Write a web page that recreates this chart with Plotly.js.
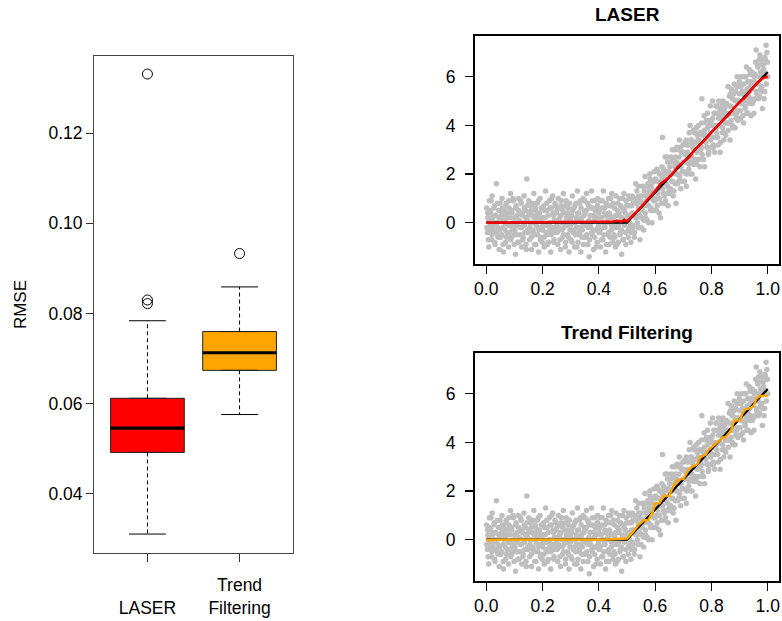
<!DOCTYPE html>
<html><head><meta charset="utf-8">
<script src="https://cdn.plot.ly/plotly-3.0.1.min.js"></script>
<style>html,body{margin:0;padding:0;background:#fff}#chart{width:782px;height:621px}</style>
</head><body><div id="chart"></div>
<script>
// ---- Left panel: RMSE boxplot summary ----
const categories = ['LASER', 'Trend Filtering'];
const categoryTickText = [' <br>LASER', 'Trend<br>Filtering'];
const boxPos = [1, 2];
const q1 = [0.0492, 0.0674];
const median = [0.0546, 0.0713];
const q3 = [0.0612, 0.0760];
const lowerWhisker = [0.0311, 0.0576];
const upperWhisker = [0.0784, 0.0859];
const outliersLaser = [0.1331, 0.0830, 0.0822];
const outliersTF = [0.0933];
const rmseTicks = [0.04, 0.06, 0.08, 0.10, 0.12];
const rmseTickText = ['0.04', '0.06', '0.08', '0.10', '0.12'];

const obsX = [
0.001,0.004,0.006,0.009,0.011,0.014,0.016,0.019,0.021,0.024,0.026,0.029,0.031,0.034,0.036,0.039,0.041,0.044,0.046,0.049,
0.051,0.054,0.056,0.059,0.061,0.064,0.066,0.069,0.071,0.074,0.076,0.079,0.081,0.084,0.086,0.089,0.091,0.094,0.096,0.099,
0.101,0.104,0.106,0.109,0.111,0.114,0.116,0.119,0.121,0.124,0.126,0.129,0.131,0.134,0.136,0.139,0.141,0.144,0.146,0.149,
0.151,0.154,0.156,0.159,0.161,0.164,0.166,0.169,0.171,0.174,0.176,0.179,0.181,0.184,0.186,0.189,0.191,0.194,0.196,0.199,
0.201,0.204,0.206,0.209,0.211,0.214,0.216,0.219,0.221,0.224,0.226,0.229,0.231,0.234,0.236,0.239,0.241,0.244,0.246,0.249,
0.251,0.254,0.256,0.259,0.261,0.264,0.266,0.269,0.271,0.274,0.276,0.279,0.281,0.284,0.286,0.289,0.291,0.294,0.296,0.299,
0.301,0.304,0.306,0.309,0.311,0.314,0.316,0.319,0.321,0.324,0.326,0.329,0.331,0.334,0.336,0.339,0.341,0.344,0.346,0.349,
0.351,0.354,0.356,0.359,0.361,0.364,0.366,0.369,0.371,0.374,0.376,0.379,0.381,0.384,0.386,0.389,0.391,0.394,0.396,0.399,
0.401,0.404,0.406,0.409,0.411,0.414,0.416,0.419,0.421,0.424,0.426,0.429,0.431,0.434,0.436,0.439,0.441,0.444,0.446,0.449,
0.451,0.454,0.456,0.459,0.461,0.464,0.466,0.469,0.471,0.474,0.476,0.479,0.481,0.484,0.486,0.489,0.491,0.494,0.496,0.499,
0.501,0.504,0.506,0.509,0.511,0.514,0.516,0.519,0.521,0.524,0.526,0.529,0.531,0.534,0.536,0.539,0.541,0.544,0.546,0.549,
0.551,0.554,0.556,0.559,0.561,0.564,0.566,0.569,0.571,0.574,0.576,0.579,0.581,0.584,0.586,0.589,0.591,0.594,0.596,0.599,
0.601,0.604,0.606,0.609,0.611,0.614,0.616,0.619,0.621,0.624,0.626,0.629,0.631,0.634,0.636,0.639,0.641,0.644,0.646,0.649,
0.651,0.654,0.656,0.659,0.661,0.664,0.666,0.669,0.671,0.674,0.676,0.679,0.681,0.684,0.686,0.689,0.691,0.694,0.696,0.699,
0.701,0.704,0.706,0.709,0.711,0.714,0.716,0.719,0.721,0.724,0.726,0.729,0.731,0.734,0.736,0.739,0.741,0.744,0.746,0.749,
0.751,0.754,0.756,0.759,0.761,0.764,0.766,0.769,0.771,0.774,0.776,0.779,0.781,0.784,0.786,0.789,0.791,0.794,0.796,0.799,
0.801,0.804,0.806,0.809,0.811,0.814,0.816,0.819,0.821,0.824,0.826,0.829,0.831,0.834,0.836,0.839,0.841,0.844,0.846,0.849,
0.851,0.854,0.856,0.859,0.861,0.864,0.866,0.869,0.871,0.874,0.876,0.879,0.881,0.884,0.886,0.889,0.891,0.894,0.896,0.899,
0.901,0.904,0.906,0.909,0.911,0.914,0.916,0.919,0.921,0.924,0.926,0.929,0.931,0.934,0.936,0.939,0.941,0.944,0.946,0.949,
0.951,0.954,0.956,0.959,0.961,0.964,0.966,0.969,0.971,0.974,0.976,0.979,0.981,0.984,0.986,0.989,0.991,0.994,0.996,0.999,
0.002,0.005,0.007,0.010,0.012,0.015,0.017,0.020,0.022,0.025,0.027,0.030,0.032,0.035,0.037,0.040,0.042,0.045,0.047,0.050,
0.052,0.055,0.057,0.060,0.062,0.065,0.067,0.070,0.072,0.075,0.077,0.080,0.082,0.085,0.087,0.090,0.092,0.095,0.097,0.100,
0.102,0.105,0.107,0.110,0.112,0.115,0.117,0.120,0.122,0.125,0.127,0.130,0.132,0.135,0.137,0.140,0.142,0.145,0.147,0.150,
0.152,0.155,0.157,0.160,0.162,0.165,0.167,0.170,0.172,0.175,0.177,0.180,0.182,0.185,0.187,0.190,0.192,0.195,0.197,0.200,
0.202,0.205,0.207,0.210,0.212,0.215,0.217,0.220,0.222,0.225,0.227,0.230,0.232,0.235,0.237,0.240,0.242,0.245,0.247,0.250,
0.252,0.255,0.257,0.260,0.262,0.265,0.267,0.270,0.272,0.275,0.277,0.280,0.282,0.285,0.287,0.290,0.292,0.295,0.297,0.300,
0.302,0.305,0.307,0.310,0.312,0.315,0.317,0.320,0.322,0.325,0.327,0.330,0.332,0.335,0.337,0.340,0.342,0.345,0.347,0.350,
0.352,0.355,0.357,0.360,0.362,0.365,0.367,0.370,0.372,0.375,0.377,0.380,0.382,0.385,0.387,0.390,0.392,0.395,0.397,0.400,
0.402,0.405,0.407,0.410,0.412,0.415,0.417,0.420,0.422,0.425,0.427,0.430,0.432,0.435,0.437,0.440,0.442,0.445,0.447,0.450,
0.452,0.455,0.457,0.460,0.462,0.465,0.467,0.470,0.472,0.475,0.477,0.480,0.482,0.485,0.487,0.490,0.492,0.495,0.497,0.500,
0.502,0.505,0.507,0.510,0.512,0.515,0.517,0.520,0.522,0.525,0.527,0.530,0.532,0.535,0.537,0.540,0.542,0.545,0.547,0.550,
0.552,0.555,0.557,0.560,0.562,0.565,0.567,0.570,0.572,0.575,0.577,0.580,0.582,0.585,0.587,0.590,0.592,0.595,0.597,0.600,
0.602,0.605,0.607,0.610,0.612,0.615,0.617,0.620,0.622,0.625,0.627,0.630,0.632,0.635,0.637,0.640,0.642,0.645,0.647,0.650,
0.652,0.655,0.657,0.660,0.662,0.665,0.667,0.670,0.672,0.675,0.677,0.680,0.682,0.685,0.687,0.690,0.692,0.695,0.697,0.700,
0.702,0.705,0.707,0.710,0.712,0.715,0.717,0.720,0.722,0.725,0.727,0.730,0.732,0.735,0.737,0.740,0.742,0.745,0.747,0.750,
0.752,0.755,0.757,0.760,0.762,0.765,0.767,0.770,0.772,0.775,0.777,0.780,0.782,0.785,0.787,0.790,0.792,0.795,0.797,0.800,
0.802,0.805,0.807,0.810,0.812,0.815,0.817,0.820,0.822,0.825,0.827,0.830,0.832,0.835,0.837,0.840,0.842,0.845,0.847,0.850,
0.852,0.855,0.857,0.860,0.862,0.865,0.867,0.870,0.872,0.875,0.877,0.880,0.882,0.885,0.887,0.890,0.892,0.895,0.897,0.900,
0.902,0.905,0.907,0.910,0.912,0.915,0.917,0.920,0.922,0.925,0.927,0.930,0.932,0.935,0.937,0.940,0.942,0.945,0.947,0.950,
0.952,0.955,0.957,0.960,0.962,0.965,0.967,0.970,0.972,0.975,0.977,0.980,0.982,0.985,0.987,0.990,0.992,0.995,0.997,1.000
];
const obsY = [
0.6,-0.4,0.2,-1.0,0.9,-0.1,0.4,-0.7,1.1,-0.3,0.0,0.7,-0.9,0.3,1.6,-0.5,-0.2,0.5,-1.1,0.8,
-0.6,0.3,1.0,-0.2,-1.2,0.5,0.1,-0.8,0.8,-0.4,0.2,-1.0,0.6,-0.1,1.2,-0.6,0.4,-0.3,0.9,-0.9,
0.2,-1.3,0.7,-0.5,0.0,1.0,-0.8,0.4,-0.2,0.8,-1.0,0.3,-0.6,1.1,-0.1,0.5,-0.9,1.8,0.1,-0.4,
0.9,-0.7,0.0,0.5,-1.1,0.3,-0.3,1.2,-0.5,0.6,-0.9,0.1,0.8,-0.2,-1.2,0.4,1.0,-0.6,0.2,-0.8,
-0.3,0.7,-1.0,0.2,1.3,-0.5,0.5,-0.1,-0.8,0.9,0.0,-1.2,0.6,-0.4,1.1,0.3,-0.7,0.8,-0.2,0.4,
0.5,-0.9,1.0,-0.3,0.2,-1.1,0.7,0.0,-0.6,1.2,-0.2,0.4,-1.0,0.9,0.1,-0.5,0.6,-1.2,0.3,-0.1,
-0.7,0.3,1.1,-0.4,0.6,-1.0,0.0,0.8,-0.2,1.3,-0.8,0.4,-0.5,0.9,-1.2,0.2,-0.3,1.0,-0.6,0.5,
0.4,-0.6,1.2,0.0,-0.9,0.7,-1.4,0.3,-0.2,1.3,-0.5,0.6,-1.1,0.1,0.9,-0.3,0.5,-0.8,1.0,-0.1,
-0.4,0.9,-1.0,0.2,0.6,-0.7,1.3,-0.2,0.4,-1.2,0.8,0.0,-0.5,1.0,-0.9,0.3,0.7,-0.3,1.2,-0.6,
0.8,-0.5,0.1,-1.0,1.1,-0.2,0.5,-0.8,0.3,1.0,-0.4,0.0,-1.3,0.6,-0.7,1.2,-0.1,0.4,-0.9,0.7,
0.7,-0.6,1.1,-0.2,0.3,-0.8,0.7,1.1,-0.2,0.4,-0.6,1.0,1.6,0.2,0.8,-0.2,1.5,1.0,-0.7,0.5,
0.2,1.5,0.7,-0.3,1.3,1.9,0.2,1.1,0.7,1.6,0.0,1.3,2.0,0.5,1.2,0.0,1.7,0.9,2.1,0.5,
1.8,0.5,2.2,1.2,1.7,0.4,2.0,0.2,1.6,2.3,3.5,1.2,2.0,0.8,2.7,1.6,1.2,2.5,0.7,2.1,
1.2,2.5,2.0,1.7,3.0,1.1,2.5,3.0,1.6,0.8,2.5,2.0,3.0,1.7,3.4,2.3,1.4,2.9,2.1,3.2,
2.9,1.7,3.3,2.5,1.5,3.2,2.7,2.2,3.7,4.0,2.5,3.4,2.0,3.1,3.8,2.4,3.3,1.8,3.9,2.9,
2.6,4.0,3.4,2.3,3.7,3.1,5.1,2.6,3.7,4.4,2.3,3.6,4.1,3.1,4.5,2.8,4.0,3.6,4.8,3.1,
4.0,5.0,3.2,4.5,2.9,4.0,4.8,3.7,4.5,3.2,5.0,4.0,2.9,4.7,4.4,3.7,5.0,3.4,4.7,4.1,
3.6,4.9,4.4,5.6,4.1,5.2,3.4,4.8,5.5,4.0,5.1,4.5,5.7,3.9,5.4,4.5,6.0,4.2,5.0,5.8,
5.6,4.3,6.0,4.9,5.4,4.1,6.0,4.8,5.3,6.4,4.5,5.8,5.2,6.3,4.9,5.6,4.4,6.2,5.5,5.0,
4.5,6.1,5.8,7.1,5.3,6.5,5.7,6.7,5.2,6.2,6.7,5.6,4.7,6.5,6.2,5.4,6.7,7.3,6.0,6.6,
-0.2,0.4,-0.7,0.1,0.5,-0.3,0.9,-0.5,0.2,-0.1,0.6,-0.8,0.3,-0.4,0.0,0.8,-0.6,0.2,-0.3,0.5,
0.1,-0.5,0.6,-0.9,0.3,0.0,-0.3,0.7,-0.6,0.4,-0.1,0.9,-0.4,0.2,-0.7,0.5,-0.2,1.0,0.0,-0.5,
-0.3,0.6,-0.1,0.3,-0.8,0.5,0.1,-0.5,0.9,-0.2,0.4,-0.7,0.0,0.6,-0.4,0.2,-1.1,0.7,-0.3,0.3,
0.4,-0.2,0.7,-0.6,0.0,0.8,-0.4,0.2,-0.9,0.5,-0.1,0.3,-0.5,0.9,-0.3,0.1,-0.7,0.6,-0.2,0.0,
0.2,-0.6,0.5,-0.1,-0.4,0.8,-0.9,0.3,0.0,-0.3,0.6,-0.5,1.0,-0.2,0.4,-0.8,0.1,-0.4,0.7,-0.1,
-0.4,0.1,-0.2,0.6,-0.7,0.3,0.9,-0.3,0.5,-0.5,0.0,0.7,-0.8,0.2,-0.1,0.4,-0.6,0.8,-0.3,0.1,
0.3,-0.8,0.5,0.0,-0.3,0.7,-0.5,0.2,-1.0,0.4,0.1,-0.4,0.8,-0.2,0.6,-0.6,0.0,-0.9,0.3,0.9,
-0.1,0.5,-0.5,0.8,-0.2,0.1,-0.7,0.6,0.0,-0.4,0.9,-0.3,0.3,-0.6,0.5,-1.0,0.2,0.7,-0.2,0.4,
0.5,-0.3,0.2,-0.7,0.9,0.0,-0.5,0.6,-0.2,0.3,-0.9,0.7,0.1,-0.4,0.4,-0.6,1.0,-0.1,0.2,-0.8,
-0.2,0.6,-0.6,0.3,0.0,-0.9,0.8,-0.1,0.4,-0.5,0.7,-0.3,0.2,1.0,-0.7,0.5,0.1,-0.4,0.9,0.2,
0.3,-0.3,0.7,0.0,1.0,-0.4,0.4,-0.1,0.8,0.3,-0.4,0.8,0.2,1.3,0.0,0.6,1.1,0.3,0.9,-0.2,
1.1,0.5,0.8,0.1,1.5,0.4,1.1,0.9,0.1,1.5,0.7,1.2,1.8,0.6,1.5,1.0,0.5,1.7,1.3,0.9,
1.0,1.7,0.7,2.1,1.4,1.0,2.0,1.7,0.8,1.9,1.4,2.2,1.1,1.8,0.9,2.1,2.7,1.5,2.0,1.3,
2.3,1.4,2.7,2.0,1.7,2.6,1.3,2.3,2.7,2.0,3.1,1.6,2.4,2.7,1.9,3.1,2.3,1.7,2.9,2.5,
2.1,2.8,2.5,3.4,2.0,2.9,3.2,2.4,2.8,2.0,3.4,2.7,3.3,2.4,3.0,3.7,2.6,3.3,2.4,3.6,
3.4,2.6,3.7,3.2,3.0,4.1,2.8,3.6,2.6,3.8,3.5,3.3,4.2,3.1,3.9,2.9,4.2,3.7,3.4,4.2,
3.5,4.3,3.1,4.0,4.5,3.5,3.9,4.8,3.5,4.3,4.0,4.6,3.3,4.3,4.9,3.9,4.6,3.7,4.5,4.9,
4.9,4.1,4.5,3.8,4.8,4.5,5.3,4.2,4.5,5.1,3.9,5.3,4.5,5.0,4.3,5.6,4.6,5.0,4.3,5.3,
4.6,5.6,4.9,5.4,4.4,5.7,5.2,4.7,6.0,5.0,5.5,4.5,5.8,5.4,6.1,5.1,5.8,4.9,6.1,5.7,
6.0,5.1,6.6,5.7,5.4,6.4,5.1,6.0,6.9,5.5,6.0,6.5,5.4,6.3,5.1,6.8,6.1,5.7,7.0,6.0
];

// true signal (black)
const truthX = [0, 0.5, 1];
const truthY = [0, 0, 6.2];
// LASER estimate (red)
const laserX = [0, 0.3, 0.41, 0.45, 0.47, 0.48, 0.49, 0.5, 0.51, 0.53, 0.56, 0.58, 0.6, 0.62, 0.64, 0.66, 0.68, 0.7, 0.72, 0.74, 0.76, 0.78, 0.8, 0.82, 0.84, 0.86, 0.88, 0.9, 0.92, 0.94, 0.96, 0.98, 1.0];
const laserY = [0, 0.01, 0.04, 0.05, 0.08, 0.04, 0.12, 0.05, 0.18, 0.4, 0.78, 1.05, 1.3, 1.62, 1.78, 2.0, 2.3, 2.5, 2.68, 3.0, 3.22, 3.45, 3.72, 3.98, 4.2, 4.42, 4.72, 4.95, 5.15, 5.45, 5.72, 5.92, 6.02];
// Trend filtering estimate (orange)
const tfX = [0, 0.04, 0.41, 0.5, 0.52, 0.54, 0.56, 0.575, 0.59, 0.6, 0.615, 0.63, 0.65, 0.66, 0.675, 0.69, 0.7, 0.72, 0.73, 0.75, 0.76, 0.78, 0.79, 0.81, 0.82, 0.84, 0.85, 0.87, 0.88, 0.9, 0.91, 0.92, 0.935, 0.95, 0.96, 0.97, 1.0];
const tfY = [-0.02, 0.0, 0.0, 0.05, 0.3, 0.6, 0.8, 0.8, 1.1, 1.5, 1.5, 1.8, 1.8, 2.1, 2.4, 2.5, 2.5, 2.9, 3.0, 3.1, 3.4, 3.5, 3.7, 3.9, 4.0, 4.2, 4.2, 4.5, 4.9, 4.9, 5.2, 5.35, 5.4, 5.5, 5.8, 5.9, 5.93];
const xTicks = [0, 0.2, 0.4, 0.6, 0.8, 1.0];
const xTickText = ['0.0', '0.2', '0.4', '0.6', '0.8', '1.0'];
const yTicks = [0, 2, 4, 6];
const panelTitles = ['LASER', 'Trend Filtering'];

// ---- build traces ----
const FONT = 'Liberation Sans, Arial, Helvetica, sans-serif';
const boxColors = ['#FF0000', '#FFA500'];
const BOX_W = 0.8, CAP_HALF = 0.2;
const traces = [];

categories.forEach((c, i) => {
  traces.push({
    type: 'box', name: c, x: [boxPos[i]], q1: [q1[i]], median: [median[i]], q3: [q3[i]],
    lowerfence: [q1[i]], upperfence: [q3[i]], width: BOX_W,
    fillcolor: boxColors[i], line: {color: '#222', width: 1}, boxpoints: false,
    xaxis: 'x', yaxis: 'y', hoverinfo: 'skip'
  });
});
{
  const mx = [], my = [];
  categories.forEach((c, i) => { mx.push(boxPos[i] - BOX_W / 2, boxPos[i] + BOX_W / 2, null); my.push(median[i], median[i], null); });
  traces.push({type: 'scatter', mode: 'lines', x: mx, y: my, line: {color: '#000', width: 3.2}, xaxis: 'x', yaxis: 'y', hoverinfo: 'skip'});
}
{
  const wx = [], wy = [], cx = [], cy = [];
  categories.forEach((c, i) => {
    wx.push(boxPos[i], boxPos[i], null, boxPos[i], boxPos[i], null);
    wy.push(q3[i], upperWhisker[i], null, q1[i], lowerWhisker[i], null);
    cx.push(boxPos[i] - CAP_HALF, boxPos[i] + CAP_HALF, null, boxPos[i] - CAP_HALF, boxPos[i] + CAP_HALF, null);
    cy.push(upperWhisker[i], upperWhisker[i], null, lowerWhisker[i], lowerWhisker[i], null);
  });
  traces.push({type: 'scatter', mode: 'lines', x: wx, y: wy, line: {color: '#000', width: 1, dash: '4px,3px'}, xaxis: 'x', yaxis: 'y', hoverinfo: 'skip'});
  traces.push({type: 'scatter', mode: 'lines', x: cx, y: cy, line: {color: '#000', width: 1}, xaxis: 'x', yaxis: 'y', hoverinfo: 'skip'});
}
traces.push({
  type: 'scatter', mode: 'markers',
  x: outliersLaser.map(() => boxPos[0]).concat(outliersTF.map(() => boxPos[1])),
  y: outliersLaser.concat(outliersTF),
  marker: {symbol: 'circle-open', size: 10, color: '#000', line: {width: 1}},
  xaxis: 'x', yaxis: 'y', hoverinfo: 'skip'
});

const fits = [{x: laserX, y: laserY, color: '#FF0000'}, {x: tfX, y: tfY, color: '#FFA500'}];
fits.forEach((f, k) => {
  const xa = 'x' + (k + 2), ya = 'y' + (k + 2);
  traces.push({type: 'scatter', mode: 'markers', x: obsX, y: obsY, marker: {color: '#BEBEBE', size: 5.5}, xaxis: xa, yaxis: ya, hoverinfo: 'skip'});
  traces.push({type: 'scatter', mode: 'lines', x: truthX, y: truthY, line: {color: '#000', width: 2.2}, xaxis: xa, yaxis: ya, hoverinfo: 'skip'});
  traces.push({type: 'scatter', mode: 'lines', x: f.x, y: f.y, line: {color: f.color, width: 2.5}, xaxis: xa, yaxis: ya, hoverinfo: 'skip'});
});

const W = 782, H = 621;
const tickFont = {family: FONT, size: 17.5, color: '#000'};
const rightX = [475 / W, 779 / W];
function rightXAxis(anchor) {
  return {domain: rightX, anchor: anchor, range: [-0.04, 1.04], tickvals: xTicks, ticktext: xTickText,
    ticks: 'outside', ticklen: 8, tickwidth: 1.3, tickcolor: '#000', showline: true, mirror: true,
    linecolor: '#000', linewidth: 2, showgrid: false, zeroline: false, tickfont: tickFont, fixedrange: true};
}
function rightYAxis(anchor, top, bottom) {
  return {domain: [1 - bottom / H, 1 - top / H], anchor: anchor, range: [-1.71, 7.69], tickvals: yTicks,
    ticks: 'outside', ticklen: 8, tickwidth: 1.3, tickcolor: '#000', showline: true, mirror: true, ticklabelstandoff: 6,
    linecolor: '#000', linewidth: 2, showgrid: false, zeroline: false, tickfont: tickFont, fixedrange: true};
}

const layout = {
  width: W, height: H, margin: {l: 0, r: 0, t: 0, b: 0}, showlegend: false,
  paper_bgcolor: '#fff', plot_bgcolor: '#fff', font: {family: FONT, color: '#000'},
  xaxis: {domain: [94 / W, 293 / W], anchor: 'y', range: [0.42, 2.58], tickvals: boxPos, ticktext: categoryTickText,
    ticks: 'outside', ticklen: 8, tickcolor: '#333', showline: true, mirror: true, linecolor: '#444', linewidth: 1,
    ticklabelstandoff: 8, showgrid: false, zeroline: false, tickfont: tickFont, fixedrange: true},
  yaxis: {domain: [1 - 553 / H, 1 - 56 / H], anchor: 'x', range: [0.0269, 0.1371], tickvals: rmseTicks, ticktext: rmseTickText,
    ticks: 'outside', ticklen: 7, tickcolor: '#333', showline: true, mirror: true, linecolor: '#444', linewidth: 1,
    showgrid: false, zeroline: false, tickfont: tickFont, fixedrange: true,
    title: {text: 'RMSE', font: {family: FONT, size: 17, color: '#000'}, standoff: 17}},
  xaxis2: rightXAxis('y2'),
  yaxis2: rightYAxis('x2', 35.7, 264.3),
  xaxis3: rightXAxis('y3'),
  yaxis3: rightYAxis('x3', 352.7, 581.3),
  annotations: [
    {text: '<b>' + panelTitles[0] + '</b>', xref: 'paper', yref: 'paper', x: (rightX[0] + rightX[1]) / 2, y: 1 - 15 / H, xanchor: 'center', yanchor: 'middle', showarrow: false, font: {family: FONT, size: 19, color: '#000'}},
    {text: '<b>' + panelTitles[1] + '</b>', xref: 'paper', yref: 'paper', x: (rightX[0] + rightX[1]) / 2, y: 1 - 332 / H, xanchor: 'center', yanchor: 'middle', showarrow: false, font: {family: FONT, size: 19, color: '#000'}}
  ]
};

Plotly.newPlot('chart', traces, layout, {displayModeBar: false, staticPlot: true});
</script></body></html>
